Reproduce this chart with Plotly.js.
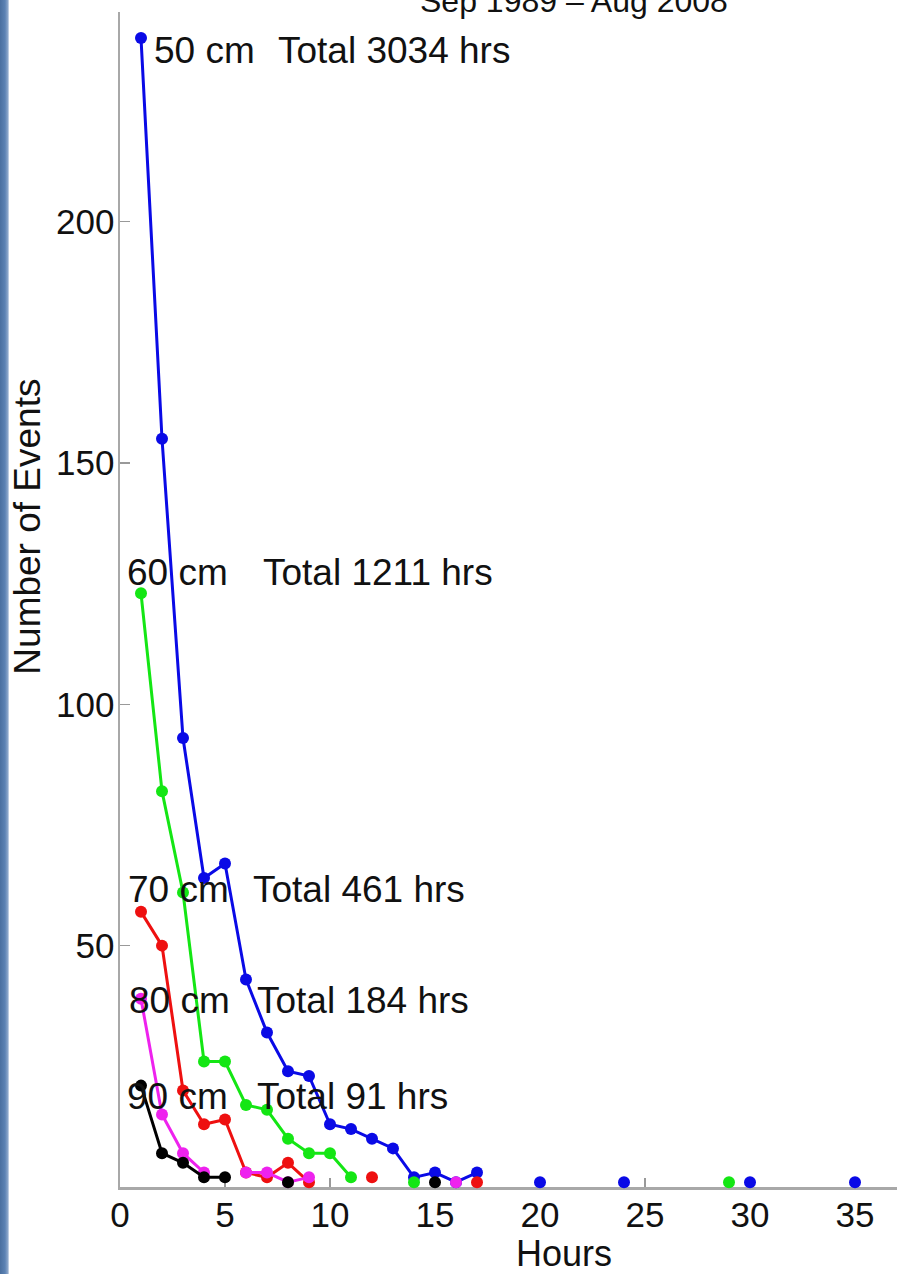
<!DOCTYPE html>
<html>
<head>
<meta charset="utf-8">
<script src="https://cdn.plot.ly/plotly-3.0.1.min.js"></script>
<style>
  html, body { margin: 0; padding: 0; background: #fff; }
  #chart { position: absolute; left: 0; top: 0; width: 897px; height: 1274px; }
  #strip { position: absolute; left: 0; top: 0; width: 9px; height: 1274px;
           background: linear-gradient(to right, #4a6f9f 0px, #5c82b3 5px, #8fa9cc 8px, #e6edf5 9px); z-index: 5; }
</style>
</head>
<body>
<div id="chart"></div>
<div id="strip"></div>
<script>
// Hours 1..35
const hours = [1,2,3,4,5,6,7,8,9,10,11,12,13,14,15,16,17,18,19,20,21,22,23,24,25,26,27,28,29,30,31,32,33,34,35];
const n = null;
// Number of events per duration, by threshold depth
const events50 = [238,155,93,64,67,43,32,24,23,13,12,10,8,2,3,1,3,n,n,1,n,n,n,1,n,n,n,n,n,1,n,n,n,n,1];
const events60 = [123,82,61,26,26,17,16,10,7,7,2,n,n,1,n,n,n,n,n,n,n,n,n,n,n,n,n,n,1,n,n,n,n,n,n];
const events70 = [57,50,20,13,14,3,2,5,1,n,n,2,n,n,n,n,1,n,n,n,n,n,n,n,n,n,n,n,n,n,n,n,n,n,n];
const events80 = [39,15,7,3,n,3,3,1,2,n,n,n,n,n,n,1,n,n,n,n,n,n,n,n,n,n,n,n,n,n,n,n,n,n,n];
const events90 = [21,7,5,2,2,n,n,1,n,n,n,n,n,n,1,n,n,n,n,n,n,n,n,n,n,n,n,n,n,n,n,n,n,n,n];

const depthLabels = ['50 cm','60 cm','70 cm','80 cm','90 cm'];
const totalHours = [3034, 1211, 461, 184, 91];
const xTicks = [0,5,10,15,20,25,30,35];
const yTicks = [50,100,150,200];
const titleText = 'Sep 1989 \u2013 Aug 2008';

const series = [events50, events60, events70, events80, events90];
const colors = ['#0a0ae6', '#14e614', '#ee1010', '#ee22ee', '#000000'];

const traces = series.map((ys, i) => ({
  x: hours, y: ys, type: 'scatter', mode: 'lines+markers',
  connectgaps: false, cliponaxis: false,
  line: {color: colors[i], width: 3},
  marker: {color: colors[i], size: 12},
  name: depthLabels[i], hoverinfo: 'x+y'
}));

const F = 'Liberation Sans, Arial, Helvetica, sans-serif';
const labelFont = {family: F, size: 37, color: '#111'};

// label placement (data coords)
const depthPos = [[1.57,235.5],[0.29,127.2],[0.33,61.6],[0.38,38.6],[0.29,18.7]];
const totalPos = [7.48, 6.76, 6.29, 6.48, 6.48];

const annotations = [];
depthLabels.forEach((d, i) => {
  annotations.push({x: depthPos[i][0], y: depthPos[i][1], xref: 'x', yref: 'y', text: d,
    showarrow: false, xanchor: 'left', yanchor: 'middle', font: labelFont, borderpad: 0});
  annotations.push({x: totalPos[i], y: depthPos[i][1], xref: 'x', yref: 'y', text: 'Total ' + totalHours[i] + ' hrs',
    showarrow: false, xanchor: 'left', yanchor: 'middle', font: labelFont, borderpad: 0});
});
annotations.push({x: -0.1184, y: 0.562, xref: 'paper', yref: 'paper', text: 'Number of Events',
  textangle: -90, showarrow: false, xanchor: 'center', yanchor: 'middle', font: labelFont});
annotations.push({x: 0.571, y: -0.0565, xref: 'paper', yref: 'paper', text: 'Hours',
  showarrow: false, xanchor: 'center', yanchor: 'middle', font: {family: F, size: 36, color: '#111'}, borderpad: 0});
annotations.push({x: 0.584, y: 1.0095, xref: 'paper', yref: 'paper', text: titleText,
  showarrow: false, xanchor: 'center', yanchor: 'middle', font: {family: F, size: 32, color: '#111'}});

const layout = {
  width: 897, height: 1274,
  margin: {l: 120, r: 0, t: 12, b: 87, pad: 0},
  paper_bgcolor: '#fff', plot_bgcolor: '#fff',
  showlegend: false,
  xaxis: {range: [0, 37], tickvals: xTicks, ticktext: xTicks.map(String),
    ticks: 'inside', ticklen: 9, tickwidth: 1.5, tickcolor: '#999', layer: 'below traces',
    showline: true, linecolor: '#a8a8a8', linewidth: 2.5, showgrid: false, zeroline: false,
    tickfont: {family: F, size: 35, color: '#111'}, ticklabelstandoff: -5},
  yaxis: {range: [0, 243.4], tickvals: yTicks, ticktext: yTicks.map(String),
    ticks: 'inside', ticklen: 10, tickwidth: 1.5, tickcolor: '#999', layer: 'below traces',
    showline: true, linecolor: '#a8a8a8', linewidth: 2.5, showgrid: false, zeroline: false,
    tickfont: {family: F, size: 35, color: '#111'}, ticklabelstandoff: -4},
  annotations: annotations
};

Plotly.newPlot('chart', traces, layout, {displayModeBar: false, staticPlot: true});
</script>
</body>
</html>
